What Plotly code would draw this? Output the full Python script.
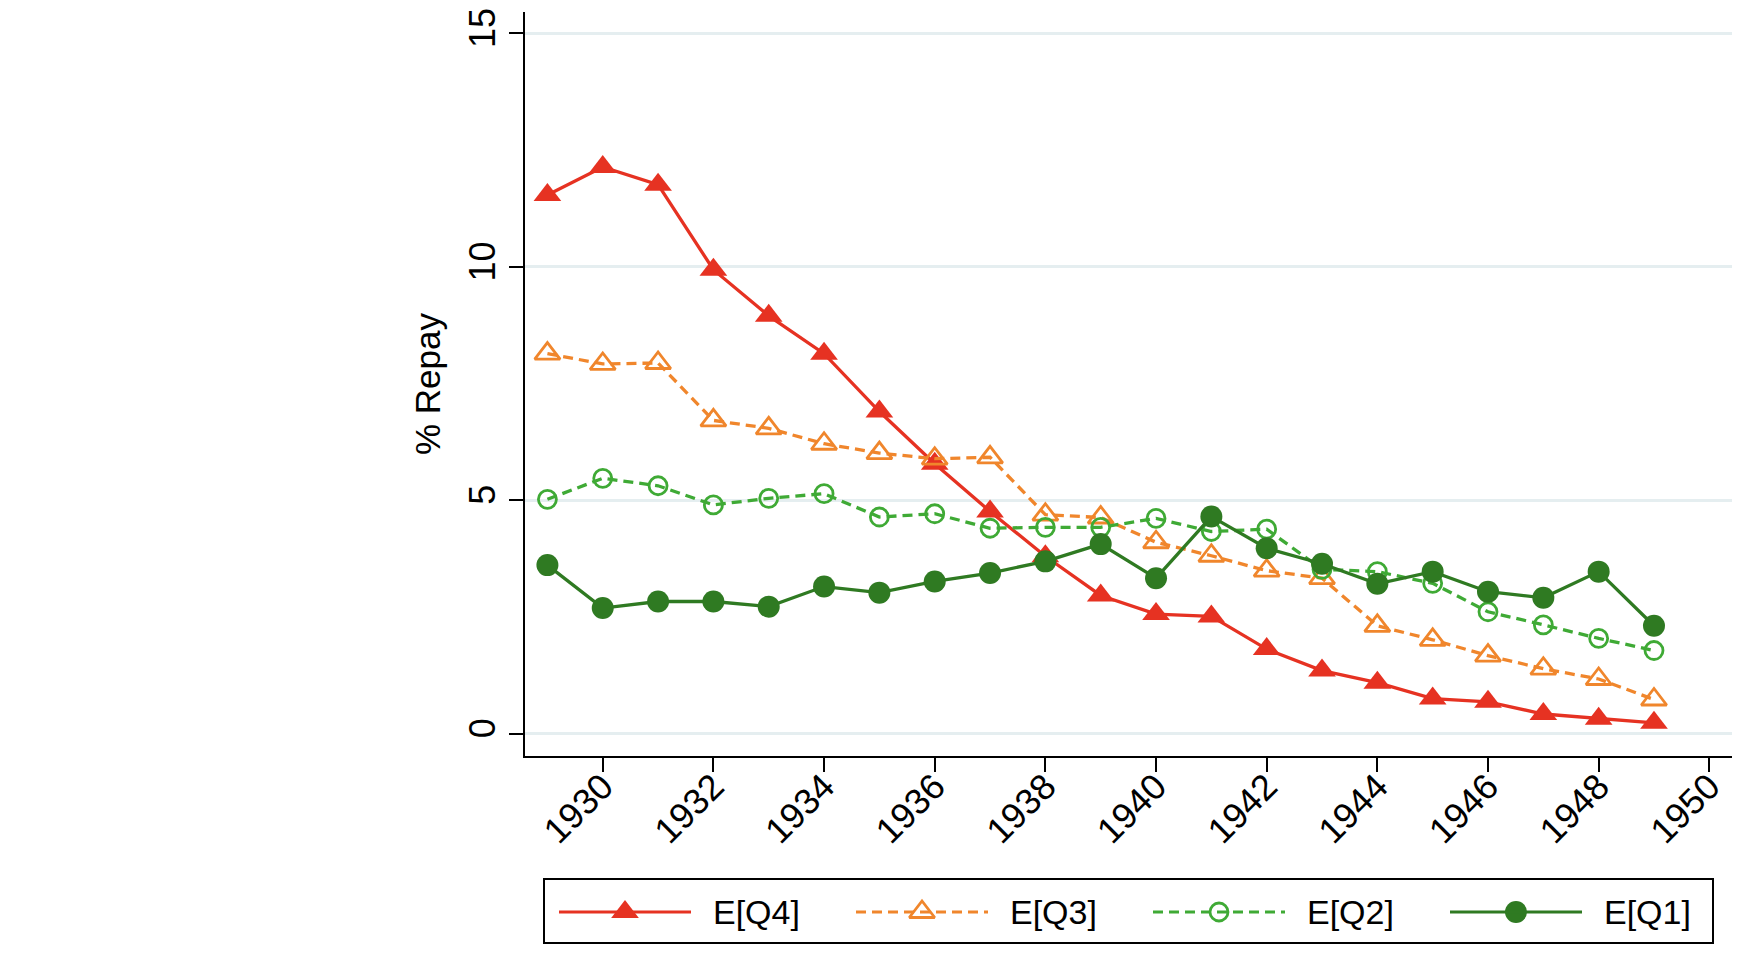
import plotly.graph_objects as go

# ---------------- data ----------------
years = list(range(1929, 1950))
q4 = [11.54, 12.14, 11.76, 9.94, 8.95, 8.14, 6.90, 5.78, 4.76, 3.80, 2.96,
      2.56, 2.51, 1.81, 1.35, 1.09, 0.75, 0.68, 0.42, 0.32, 0.23]
q3 = [8.14, 7.92, 7.94, 6.71, 6.54, 6.21, 6.01, 5.89, 5.92, 4.69, 4.63,
      4.10, 3.81, 3.49, 3.33, 2.31, 2.01, 1.67, 1.39, 1.17, 0.73]
q2 = [5.02, 5.47, 5.31, 4.90, 5.04, 5.14, 4.64, 4.71, 4.40, 4.42, 4.42,
      4.61, 4.33, 4.38, 3.52, 3.47, 3.22, 2.61, 2.33, 2.04, 1.78]
q1 = [3.61, 2.69, 2.83, 2.83, 2.72, 3.15, 3.02, 3.26, 3.44, 3.69, 4.06,
      3.33, 4.65, 3.97, 3.64, 3.21, 3.47, 3.04, 2.91, 3.47, 2.31]
series_names = ["E[Q4]", "E[Q3]", "E[Q2]", "E[Q1]"]
y_ticks = [0, 5, 10, 15]
x_ticks = list(range(1930, 1951, 2))
y_title = "% Repay"

# ---------------- styling / layout constants ----------------
W, H = 1759, 959
PLOT_L, PLOT_R, PLOT_T, PLOT_B = 525, 1732, 12, 756
FONT = "Liberation Sans, Arial, Helvetica, sans-serif"

RED = "#E63222"
ORANGE = "#F0862C"
LGREEN = "#3FAA35"
DGREEN = "#2F7A22"
DASH = "10px,6px"

styles = [
    dict(color=RED, dash="solid", symbol="triangle-up", size=24, lw=0),
    dict(color=ORANGE, dash=DASH, symbol="triangle-up-open", size=22, lw=2.8),
    dict(color=LGREEN, dash=DASH, symbol="circle-open", size=18, lw=2.8),
    dict(color=DGREEN, dash="solid", symbol="circle", size=22, lw=0),
]
series_values = [q4, q3, q2, q1]

fig = go.Figure()
for name, vals, st in zip(series_names, series_values, styles):
    fig.add_trace(go.Scatter(
        x=years, y=vals, name=name, mode="lines+markers",
        line=dict(color=st["color"], width=3.3, dash=st["dash"]),
        marker=dict(symbol=st["symbol"], size=st["size"], color=st["color"],
                    line=dict(width=st["lw"], color=st["color"])),
        showlegend=False, cliponaxis=False,
    ))

# ---------------- hand-built legend (Stata style, long sample lines) ----------------
LEG_X0, LEG_X1, LEG_Y0, LEG_Y1 = 544, 1713, 879, 943
ITEM_W = 297
LINE_X0, LINE_LEN = 559, 132
TEXT_X0 = 711
LEG_YC = 912

def px(x):
    return x / W

def py(y):
    return 1 - y / H

shapes = [dict(type="rect", xref="paper", yref="paper",
               x0=px(LEG_X0), x1=px(LEG_X1), y0=py(LEG_Y1), y1=py(LEG_Y0),
               line=dict(color="black", width=2), fillcolor="white", layer="below")]
annotations = []
for i, (name, st) in enumerate(zip(series_names, styles)):
    lx0 = LINE_X0 + i * ITEM_W
    shapes.append(dict(type="line", xref="paper", yref="paper",
                       x0=px(lx0), x1=px(lx0 + LINE_LEN), y0=py(LEG_YC), y1=py(LEG_YC),
                       line=dict(color=st["color"], width=3, dash=st["dash"])))
    fig.add_trace(go.Scatter(
        x=[lx0 + LINE_LEN / 2], y=[LEG_YC], xaxis="x2", yaxis="y2", mode="markers",
        marker=dict(symbol=st["symbol"], size=st["size"], color=st["color"],
                    line=dict(width=st["lw"], color=st["color"])),
        showlegend=False, hoverinfo="skip", cliponaxis=False,
    ))
    annotations.append(dict(xref="paper", yref="paper", x=px(TEXT_X0 + i * ITEM_W), y=py(LEG_YC),
                            xanchor="left", yanchor="middle", showarrow=False, text=name,
                            font=dict(family=FONT, size=34, color="black")))

fig.update_layout(
    width=W, height=H,
    margin=dict(l=0, r=0, t=0, b=0, autoexpand=False),
    paper_bgcolor="white", plot_bgcolor="rgba(0,0,0,0)",
    font=dict(family=FONT, size=36, color="black"),
    shapes=shapes, annotations=annotations,
    showlegend=False,
    xaxis=dict(domain=[PLOT_L / W, PLOT_R / W], anchor="y", automargin=False,
               range=[1928.595, 1950.41], tickvals=x_ticks, tickangle=-45,
               showgrid=False, zeroline=False, showline=True, linecolor="black", linewidth=2,
               ticks="outside", ticklen=14, tickwidth=2, tickcolor="black",
               ticklabelstandoff=-21,
               tickfont=dict(family=FONT, size=36, color="black")),
    yaxis=dict(domain=[(H - PLOT_B) / H, (H - PLOT_T) / H], anchor="x", automargin=False,
               range=[-0.48, 15.46], tickvals=y_ticks, tickangle=-90,
               showgrid=True, gridcolor="#E5EEF0", gridwidth=2.5, zeroline=False,
               showline=True, linecolor="black", linewidth=2,
               ticks="outside", ticklen=14, tickwidth=2, tickcolor="black",
               tickfont=dict(family=FONT, size=36, color="black"),
               title=dict(text=y_title, font=dict(family=FONT, size=35, color="black"), standoff=10)),
    xaxis2=dict(domain=[0, 1], anchor="y2", range=[0, W], visible=False, fixedrange=True,
                automargin=False),
    yaxis2=dict(domain=[0, 1], anchor="x2", range=[H, 0], visible=False, fixedrange=True,
                automargin=False),
)

fig.write_html("out.html")
